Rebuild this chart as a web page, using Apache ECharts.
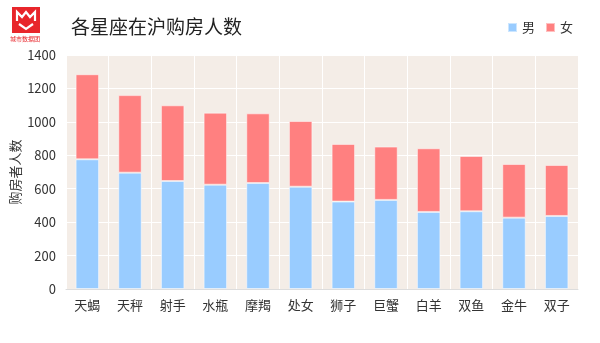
<!DOCTYPE html>
<html>
<head>
<meta charset="utf-8">
<script src="https://cdn.jsdelivr.net/npm/echarts@6/dist/echarts.min.js"></script>
<style>html,body{margin:0;padding:0;background:#fff;}#c{width:600px;height:343px;}</style>
</head>
<body>
<div id="c"></div>
<script>
const categories = ['天蝎','天秤','射手','水瓶','摩羯','处女','狮子','巨蟹','白羊','双鱼','金牛','双子'];
const male = [776, 696, 646, 624, 634, 612, 523, 533, 461, 465, 427, 437];
const female = [509, 464, 453, 431, 417, 393, 345, 319, 381, 331, 321, 305];
const yTicks = [0, 200, 400, 600, 800, 1000, 1200, 1400];
const seriesNames = ['男', '女'];
const titleText = '各星座在沪购房人数';
const yName = '购房者人数';

const font = '"Noto Sans CJK SC", "Noto Sans", sans-serif';
const chart = echarts.init(document.getElementById('c'), null, {renderer: 'canvas'});
chart.setOption({
  animation: false,
  textStyle: {fontFamily: font},
  title: {text: titleText, left: 66, top: 12, textStyle: {fontSize: 19, fontWeight: 'normal', color: '#222', fontFamily: font}},
  legend: {
    data: seriesNames, right: 22, top: 16, itemWidth: 9, itemHeight: 9, itemGap: 10,
    icon: 'rect', textStyle: {fontSize: 13, color: '#333', fontFamily: font}
  },
  grid: {left: 66, right: 22, top: 55, bottom: 54, outerBoundsMode: 'none', containLabel: false,
         show: true, backgroundColor: '#f4ede7', borderWidth: 0},
  xAxis: {
    type: 'category', data: categories,
    axisLine: {lineStyle: {color: '#ddd'}},
    axisTick: {show: false},
    axisLabel: {fontSize: 13, color: '#333', margin: 10},
    splitLine: {show: true, lineStyle: {color: '#fff', width: 1}}
  },
  yAxis: {
    type: 'value', min: yTicks[0], max: yTicks[yTicks.length-1], interval: 200,
    name: yName, nameLocation: 'middle', nameRotate: 90, nameGap: 44, nameMoveOverlap: false,
    nameTextStyle: {fontSize: 13, color: '#333'},
    axisLine: {show: false}, axisTick: {show: false},
    axisLabel: {fontSize: 13, color: '#333', margin: 10, formatter: v => String(v)},
    splitLine: {lineStyle: {color: '#fff', width: 1}}
  },
  series: [
    {name: seriesNames[0], type: 'bar', stack: 't', data: male, barWidth: '55%',
     itemStyle: {color: '#99ccff', borderColor: 'rgba(255,255,255,0.5)', borderWidth: 1}},
    {name: seriesNames[1], type: 'bar', stack: 't', data: female, barWidth: '55%',
     itemStyle: {color: '#ff8080', borderColor: 'rgba(255,255,255,0.5)', borderWidth: 1}}
  ],
  graphic: [
    {type: 'rect', left: 12, top: 7, shape: {width: 28, height: 26}, style: {fill: '#e8262b'}},
    {type: 'polyline', shape: {points: [[17,21],[17,12],[22,17],[26,12],[30,17],[35,12],[35,21]]},
     style: {stroke: '#fff', lineWidth: 2.2, fill: null}},
    {type: 'polyline', shape: {points: [[19,24],[26,29],[33,24]]},
     style: {stroke: '#fff', lineWidth: 2.2, fill: null}},
    {type: 'text', left: 10, top: 36, style: {text: '城市数据团', fill: '#e8262b', fontSize: 6, fontFamily: font}}
  ]
});
</script>
</body>
</html>
